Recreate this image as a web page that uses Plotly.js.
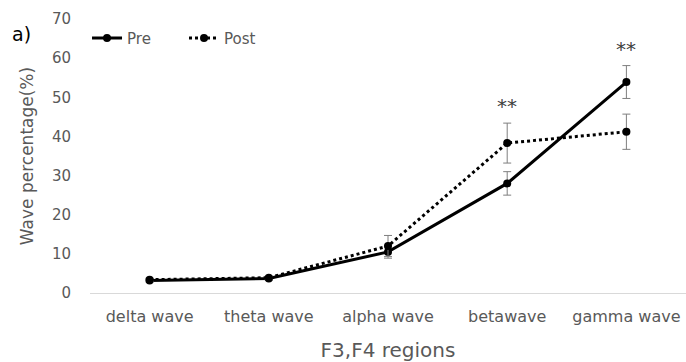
<!DOCTYPE html>
<html><head><meta charset="utf-8">
<script src="https://cdn.plot.ly/plotly-3.0.1.min.js"></script>
<style>body{margin:0;background:#fff}#c{width:686px;height:362px}</style>
</head><body><div id="c"></div>
<script>
const categories = ["delta wave","theta wave","alpha wave","betawave","gamma wave"];
const preValues = [3.2, 3.7, 10.5, 28.0, 53.9];
const preErr = [0.4, 0.4, 1.6, 3.0, 4.2];
const postValues = [3.4, 3.9, 12.0, 38.3, 41.2];
const postErr = [0.4, 0.4, 2.7, 5.1, 4.5];
const sigCats = ["betawave","gamma wave"];
const sigY = [47.8, 62.3];
const yTicks = [0,10,20,30,40,50,60,70];

const FONT = "'DejaVu Sans', sans-serif";
const GRAY = '#595959';

const traces = [
  {x: categories, y: preValues, name: 'Pre', type: 'scatter', mode: 'lines+markers',
   line: {color: '#000', width: 3}, marker: {color: '#000', size: 8},
   error_y: {type: 'data', array: preErr, visible: true, color: '#7f7f7f', thickness: 1, width: 4}},
  {x: categories, y: postValues, name: 'Post', type: 'scatter', mode: 'lines+markers',
   line: {color: '#000', width: 3, dash: 'dot'}, marker: {color: '#000', size: 8},
   error_y: {type: 'data', array: postErr, visible: true, color: '#7f7f7f', thickness: 1, width: 4}}
];

const annotations = sigCats.map((c, i) => ({
  x: c, y: sigY[i], xref: 'x', yref: 'y', text: '**', showarrow: false,
  font: {family: FONT, size: 20, color: '#404040'}
}));
annotations.push({x: -0.135, y: 0.945, xref: 'paper', yref: 'paper', text: 'a)', showarrow: false,
  xanchor: 'left', yanchor: 'middle', font: {family: FONT, size: 19, color: '#000'}});

const layout = {
  width: 686, height: 362,
  margin: {l: 90, r: 0, t: 19, b: 69},
  paper_bgcolor: '#fff', plot_bgcolor: '#fff',
  font: {family: FONT, color: GRAY, size: 15},
  showlegend: true,
  legend: {orientation: 'h', x: -0.005, y: 0.93, xanchor: 'left', yanchor: 'middle',
    font: {family: FONT, size: 15, color: GRAY}, bgcolor: 'rgba(0,0,0,0)', itemwidth: 30,
    entrywidth: 52},
  xaxis: {type: 'category', range: [-0.5, 4.5], showgrid: false, zeroline: false, showline: true, linecolor: '#d9d9d9', linewidth: 1,
    ticks: '', tickfont: {family: FONT, size: 16, color: GRAY}, ticklabelstandoff: 9,
    title: {text: 'F3,F4 regions', font: {family: FONT, size: 20, color: GRAY}, standoff: 18}},
  yaxis: {range: [0, 70], tickvals: yTicks, showgrid: false, zeroline: false, showline: false, ticks: '',
    tickfont: {family: FONT, size: 15, color: GRAY}, ticklabelstandoff: 18,
    title: {text: 'Wave percentage(%)', font: {family: FONT, size: 17, color: GRAY}, standoff: 13}},
  annotations: annotations
};

Plotly.newPlot('c', traces, layout, {displayModeBar: false});
</script></body></html>
